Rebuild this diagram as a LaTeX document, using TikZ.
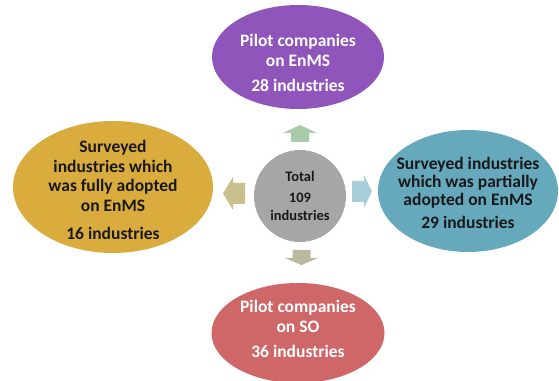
\documentclass[tikz,border=0pt]{standalone}
\usepackage{fontspec}
\setmainfont{Carlito}
\usepackage{tikz}
\usetikzlibrary{shapes.geometric}

\definecolor{enmsPurple}{RGB}{143,85,186}
\definecolor{fullGold}{RGB}{218,172,61}
\definecolor{partTeal}{RGB}{102,168,188}
\definecolor{soRed}{RGB}{207,103,104}
\definecolor{totalGray}{RGB}{166,166,166}
\definecolor{upGreen}{RGB}{168,204,170}
\definecolor{leftTan}{RGB}{201,193,141}
\definecolor{rightBlue}{RGB}{166,207,217}
\definecolor{downTan}{RGB}{186,185,160}

% block arrow pointing right: length / shaft half width / head half width / head length
\tikzset{
	pics/blk/.style args = {#1/#2/#3/#4}{
		code = {
			\fill (-#1/2,-#2) -- (#1/2-#4,-#2) -- (#1/2-#4,-#3) -- (#1/2,0)
				-- (#1/2-#4,#3) -- (#1/2-#4,#2) -- (-#1/2,#2) -- cycle;
		}
	}
}

\begin{document}
\begin{tikzpicture}	[
		x = 1pt,
		y = 1pt,
		e/.style = {
			ellipse,
			inner sep = 0pt
		},
		t/.style = {
			align = center,
			inner sep = 0pt,
			font = \fontsize{17.5}{19.5}\selectfont\bfseries
		}
	]
	\useasboundingbox (0,0) rectangle (559,380);

	\node (top) [e, fill=enmsPurple, minimum width=172pt, minimum height=104pt] at (298,323) {};
	\node (topText) [t, text=white] at ([yshift=-6pt]top.center)
		{Pilot companies\\on EnMS\\[6pt]28 industries};

	\node (left) [e, fill=fullGold, minimum width=200pt, minimum height=132pt] at (113,193) {};
	\node (leftText) [t, text=black!90] at ([yshift=-3pt]left.center)
		{Surveyed\\industries which\\was fully adopted\\on EnMS\\[9pt]16 industries};

	\node (right) [e, fill=partTeal, minimum width=180pt, minimum height=122pt] at (468,189) {};
	\node (rightText) [t, text=black!90] at ([yshift=-2pt]right.center)
		{Surveyed industries\\[-1.5pt]which was partially\\[-1.5pt]adopted on EnMS\\[3pt]29 industries};

	\node (bottom) [e, fill=soRed, minimum width=173pt, minimum height=100pt] at (298,47) {};
	\node (bottomText) [t, text=white] at ([yshift=4pt]bottom.center)
		{Pilot companies\\on SO\\[6pt]36 industries};

	\node (total) [circle, fill=totalGray, text=black!90, minimum size=92pt, inner sep=0pt, align=center,
		font=\fontsize{14.5}{21}\selectfont\bfseries] at (300,184)
		{Total\\109\\[-3pt]industries};

	% arrows round the total
	\pic (toTop) [fill=upGreen, rotate=90] at (300,246.5) {blk={17/9/17/8}};
	\pic (toLeft) [fill=leftTan, rotate=180] at (234,186.5) {blk={22/10.5/16.5/10}};
	\pic (toRight) [fill=rightBlue] at (362,188.5) {blk={20/10.5/16.5/8}};
	\pic (toBottom) [fill=downTan, rotate=270] at (301.5,122.5) {blk={15/9/16.5/7}};
\end{tikzpicture}
\end{document}
